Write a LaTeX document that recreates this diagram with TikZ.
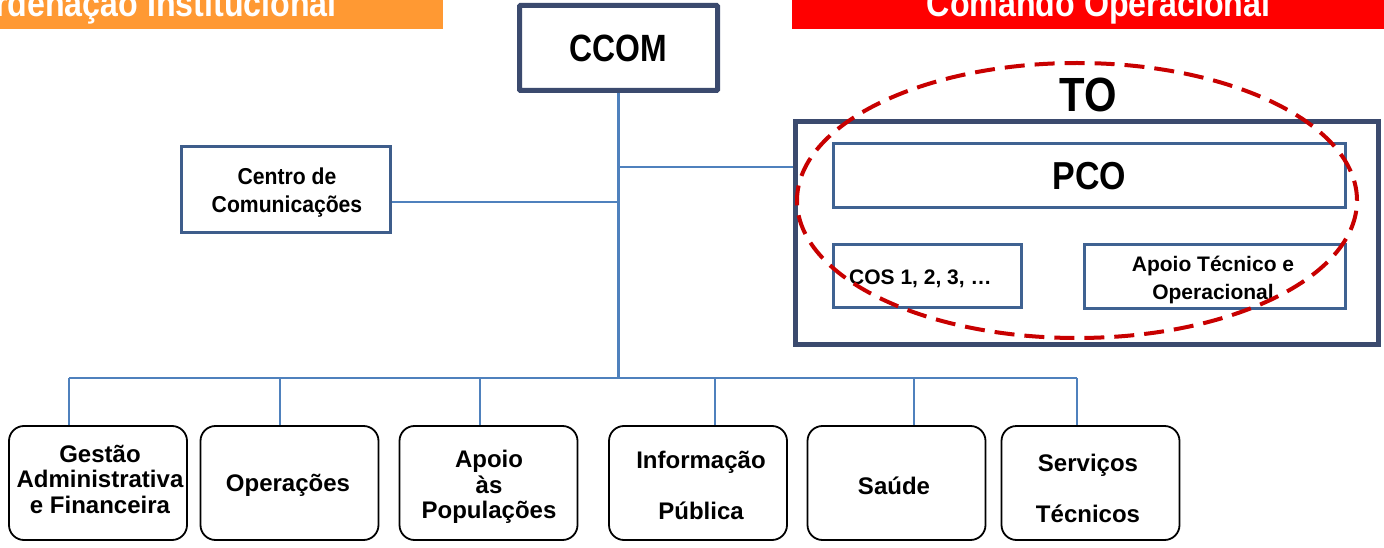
\documentclass[tikz,border=0pt]{standalone}
\usepackage{fontspec}
\setmainfont{Liberation Sans}
\newfontfamily\cA[FakeStretch=0.84]{Liberation Sans}
\newfontfamily\cB[FakeStretch=0.87]{Liberation Sans}
\newfontfamily\cC[FakeStretch=0.92]{Liberation Sans}
\usetikzlibrary{shapes.geometric}
\definecolor{navy}{HTML}{3B4A6E}
\definecolor{boxblue}{HTML}{3F6292}
\definecolor{conn}{HTML}{4F81BD}
\definecolor{oval}{HTML}{C80000}
\definecolor{orangeban}{HTML}{FF9933}
\definecolor{redban}{HTML}{FF0000}
\tikzset{
  connline/.style={draw=conn, line width=2.6pt},
  navybox/.style={draw=navy, line width=5pt, fill=white, inner sep=0pt, rounded corners=1pt},
  bluebox/.style={draw=boxblue, line width=3pt, fill=white, inner sep=0pt},
  unitbox/.style={draw=black, line width=1.8pt, fill=white, rounded corners=15pt, inner sep=0pt,
    minimum width=178pt, minimum height=114pt},
  unitlabel/.style={inner sep=0pt, align=center, font=\fontsize{24}{25.5}\selectfont\bfseries},
  bannertext/.style={text=white, inner sep=0pt, font=\cB\fontsize{37}{40}\selectfont\bfseries},
}
\begin{document}
\begin{tikzpicture}[x=1pt,y=-1pt]
\useasboundingbox (0,0) rectangle (1384,548);
\clip (0,0) rectangle (1384,548);
% banners
\node[fill=orangeban, inner sep=0pt, minimum width=445pt, minimum height=31pt, anchor=north west] (banL) at (-2,-2) {};
\node[bannertext, anchor=base east] (banLtext) at (337,17) {Coordenação Institucional};
\node[fill=redban, inner sep=0pt, minimum width=595pt, minimum height=31pt, anchor=north west] (banR) at (792,-2) {};
\node[bannertext, anchor=base] (banRtext) at (1098.5,17) {Comando Operacional};
% CCOM
\node[navybox, minimum width=198pt, minimum height=85pt, font=\cA\fontsize{38}{40}\selectfont\bfseries] (ccom) at (618.5,48) {CCOM};
% Centro de Comunicações
\node[draw=boxblue!80!navy, line width=3pt, fill=white, inner sep=0pt, minimum width=209pt, minimum height=86pt] (centro) at (286,189.5) {};
\node[inner sep=0pt, align=center, font=\cC\fontsize{23}{28}\selectfont\bfseries] (centrolabel) at (287,193) {Centro de\\Comunicações};
% TO box
\node[navybox, rounded corners=0pt, minimum width=583pt, minimum height=222pt] (tobox) at (1087,233) {};
\node[inner sep=0pt, font=\cB\fontsize{48}{50}\selectfont\bfseries] (tolabel) at (1088.5,95) {TO};
\node[bluebox, minimum width=512pt, minimum height=64.5pt, font=\cB\fontsize{39}{40}\selectfont\bfseries] (pco) at (1089.5,175.75) {PCO};
\node[bluebox, minimum width=188pt, minimum height=63pt] (cos) at (927.5,276) {};
\node[inner sep=0pt, anchor=west, font=\fontsize{21}{24}\selectfont\bfseries] (coslabel) at (849,279) {COS 1, 2, 3, …};
\node[bluebox, minimum width=261pt, minimum height=64pt] (apoiotec) at (1215,276.5) {};
\node[inner sep=0pt, align=center, font=\fontsize{21}{28}\selectfont\bfseries] (apoiolabel) at (1213,280) {Apoio Técnico e\\Operacional};
% bottom units
\node[unitbox] (b1) at (98,483) {};
\node[unitbox] (b2) at (289.5,483) {};
\node[unitbox] (b3) at (488.5,483) {};
\node[unitbox] (b4) at (698,483) {};
\node[unitbox] (b5) at (896.5,483) {};
\node[unitbox] (b6) at (1090.5,483) {};
\node[unitlabel] (b1t) at (100,479) {Gestão\\Administrativa\\e Financeira};
\node[unitlabel] (b2t) at (288,485) {Operações};
\node[unitlabel] (b3t) at (489,487) {Apoio\\às\\Populações};
\node[unitlabel] (b4t) at (701,485) {Informação\\[25.5pt]Pública};
\node[unitlabel] (b5t) at (894,486) {Saúde};
\node[unitlabel] (b6t) at (1088,488) {Serviços\\[25.5pt]Técnicos};
% connector coordinates
\coordinate (jc) at (618,202);
\coordinate (jt) at (618,167);
\coordinate (busL) at (69,378);
\coordinate (busR) at (1077,378);
\coordinate (d1) at (69,378);
\coordinate (d2) at (280,378);
\coordinate (d3) at (480,378);
\coordinate (d4) at (715,378);
\coordinate (d5) at (914,378);
\coordinate (d6) at (1077,378);
% connectors
\draw[connline] (ccom.south) -- (ccom.south |- busL);
\draw[connline] (centro.east |- jc) -- (jc);
\draw[connline] (jt) -- (tobox.west |- jt);
\draw[connline] (busL) -- (busR);
\foreach \i in {1,...,6} {
  \draw[connline] (d\i) -- (d\i |- b\i.north);
}
% dashed oval
\node[ellipse, draw=oval, line width=4pt, dash pattern=on 20pt off 10pt, minimum width=560pt, minimum height=275pt, inner sep=0pt] (ovalTO) at (1077,200.5) {};
\end{tikzpicture}
\end{document}
